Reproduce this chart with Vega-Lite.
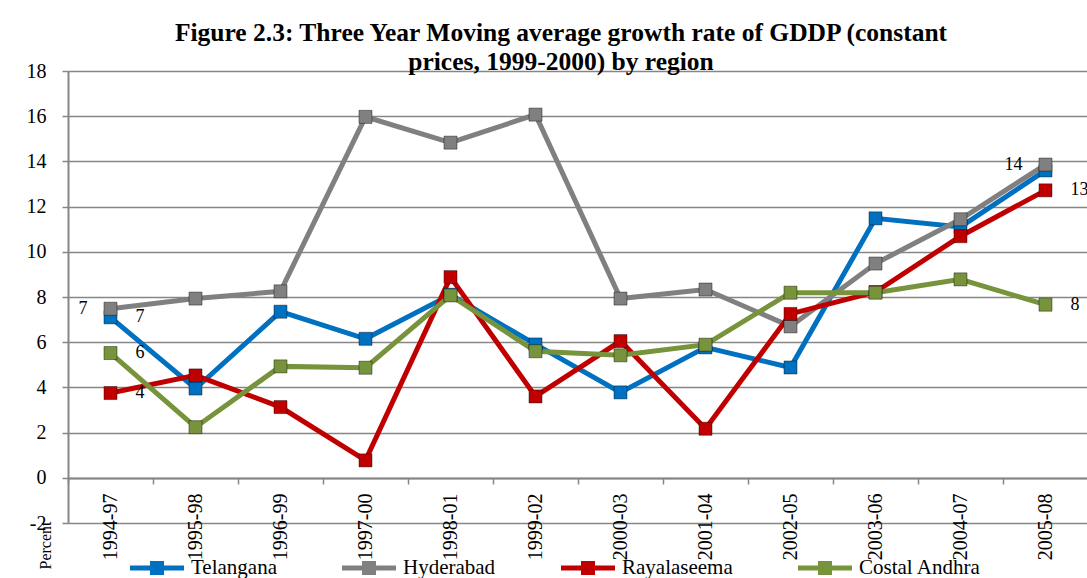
{
  "$schema": "https://vega.github.io/schema/vega-lite/v6.json",
  "width": 1020,
  "height": 452,
  "autosize": {"type": "none"},
  "padding": {"left": 68, "top": 71, "right": 0, "bottom": 55},
  "background": "white",
  "config": {"view": {"stroke": null}, "font": "Liberation Serif"},
  "title": {
    "text": ["Figure 2.3: Three Year Moving average growth rate of GDDP (constant", "prices, 1999-2000) by region"],
    "font": "Liberation Serif",
    "fontSize": 25.5,
    "fontWeight": "bold",
    "color": "black",
    "lineHeight": 29,
    "baseline": "bottom",
    "offset": -39,
    "dx": -17,
    "anchor": "middle"
  },
  "data": {
    "values": [
      {"period": "1994-97", "region": "Telangana", "growth": 7.1},
      {"period": "1995-98", "region": "Telangana", "growth": 3.95},
      {"period": "1996-99", "region": "Telangana", "growth": 7.35},
      {"period": "1997-00", "region": "Telangana", "growth": 6.15},
      {"period": "1998-01", "region": "Telangana", "growth": 8.1},
      {"period": "1999-02", "region": "Telangana", "growth": 5.9},
      {"period": "2000-03", "region": "Telangana", "growth": 3.78},
      {"period": "2001-04", "region": "Telangana", "growth": 5.77},
      {"period": "2002-05", "region": "Telangana", "growth": 4.88},
      {"period": "2003-06", "region": "Telangana", "growth": 11.48},
      {"period": "2004-07", "region": "Telangana", "growth": 11.1},
      {"period": "2005-08", "region": "Telangana", "growth": 13.6},
      {"period": "1994-97", "region": "Hyderabad", "growth": 7.48},
      {"period": "1995-98", "region": "Hyderabad", "growth": 7.93},
      {"period": "1996-99", "region": "Hyderabad", "growth": 8.25},
      {"period": "1997-00", "region": "Hyderabad", "growth": 15.97},
      {"period": "1998-01", "region": "Hyderabad", "growth": 14.83},
      {"period": "1999-02", "region": "Hyderabad", "growth": 16.07},
      {"period": "2000-03", "region": "Hyderabad", "growth": 7.93},
      {"period": "2001-04", "region": "Hyderabad", "growth": 8.33},
      {"period": "2002-05", "region": "Hyderabad", "growth": 6.7},
      {"period": "2003-06", "region": "Hyderabad", "growth": 9.48},
      {"period": "2004-07", "region": "Hyderabad", "growth": 11.44},
      {"period": "2005-08", "region": "Hyderabad", "growth": 13.86},
      {"period": "1994-97", "region": "Rayalaseema", "growth": 3.75},
      {"period": "1995-98", "region": "Rayalaseema", "growth": 4.53},
      {"period": "1996-99", "region": "Rayalaseema", "growth": 3.13},
      {"period": "1997-00", "region": "Rayalaseema", "growth": 0.77},
      {"period": "1998-01", "region": "Rayalaseema", "growth": 8.88},
      {"period": "1999-02", "region": "Rayalaseema", "growth": 3.6},
      {"period": "2000-03", "region": "Rayalaseema", "growth": 6.05},
      {"period": "2001-04", "region": "Rayalaseema", "growth": 2.17},
      {"period": "2002-05", "region": "Rayalaseema", "growth": 7.25},
      {"period": "2003-06", "region": "Rayalaseema", "growth": 8.22},
      {"period": "2004-07", "region": "Rayalaseema", "growth": 10.69},
      {"period": "2005-08", "region": "Rayalaseema", "growth": 12.72},
      {"period": "1994-97", "region": "Costal Andhra", "growth": 5.52},
      {"period": "1995-98", "region": "Costal Andhra", "growth": 2.24},
      {"period": "1996-99", "region": "Costal Andhra", "growth": 4.93},
      {"period": "1997-00", "region": "Costal Andhra", "growth": 4.87},
      {"period": "1998-01", "region": "Costal Andhra", "growth": 8.07},
      {"period": "1999-02", "region": "Costal Andhra", "growth": 5.6},
      {"period": "2000-03", "region": "Costal Andhra", "growth": 5.42},
      {"period": "2001-04", "region": "Costal Andhra", "growth": 5.89},
      {"period": "2002-05", "region": "Costal Andhra", "growth": 8.19},
      {"period": "2003-06", "region": "Costal Andhra", "growth": 8.19},
      {"period": "2004-07", "region": "Costal Andhra", "growth": 8.78},
      {"period": "2005-08", "region": "Costal Andhra", "growth": 7.66}
    ]
  },
  "encoding": {
    "x": {
      "field": "period",
      "type": "ordinal",
      "sort": null,
      "bandPosition": 0.5,
      "scale": {"type": "band", "paddingInner": 0, "paddingOuter": 0},
      "axis": {
        "title": null,
        "labelAngle": 270,
        "labelAlign": "right",
        "labelBaseline": "middle",
        "labelFont": "Liberation Serif",
        "labelFontSize": 20,
        "labelColor": "black",
        "labelPadding": 9,
        "offset": -45,
        "domainColor": "#868686",
        "domainWidth": 2,
        "tickColor": "#868686",
        "tickWidth": 1.5,
        "tickSize": 6,
        "tickBand": "extent",
        "grid": false
      }
    },
    "y": {
      "field": "growth",
      "type": "quantitative",
      "scale": {"domain": [-2, 18], "nice": false, "zero": false},
      "axis": {
        "title": "Percent",
        "titleX": -23,
        "titleY": 450,
        "titleAngle": 270,
        "titleAlign": "right",
        "titleBaseline": "middle",
        "titleFont": "Liberation Serif",
        "titleFontSize": 16,
        "titleFontWeight": "normal",
        "titleColor": "black",
        "values": [-2, 0, 2, 4, 6, 8, 10, 12, 14, 16, 18],
        "labelExpr": "replace(datum.label, '−', '-')",
        "labelFont": "Liberation Serif",
        "labelFontSize": 20,
        "labelColor": "black",
        "labelPadding": 16,
        "tickSize": 6,
        "tickColor": "#868686",
        "tickWidth": 1.5,
        "grid": true,
        "gridColor": "#868686",
        "gridWidth": 1.5,
        "domainColor": "#868686",
        "domainWidth": 2
      }
    },
    "color": {
      "field": "region",
      "type": "nominal",
      "sort": null,
      "scale": {"domain": ["Telangana", "Hyderabad", "Rayalaseema", "Costal Andhra"], "range": ["#0070C0", "#808080", "#C00000", "#77933C"]},
      "legend": {
        "title": null,
        "orient": "none",
        "legendX": 62,
        "legendY": 470,
        "direction": "horizontal",
        "columns": 4,
        "symbolType": "M-1,-0.09H1V0.09H-1Z M-0.26,-0.26H0.26V0.26H-0.26Z",
        "symbolSize": 2916,
        "symbolStrokeWidth": 0,
        "symbolOpacity": 1,
        "labelFont": "Liberation Serif",
        "labelFontSize": 21,
        "labelColor": "black",
        "labelOffset": 7,
        "columnPadding": 65,
        "labelLimit": 300
      }
    }
  },
  "layer": [
    {
      "mark": {"type": "line", "strokeWidth": 5}
    },
    {
      "mark": {"type": "point", "shape": "square", "filled": true, "size": 170, "strokeWidth": 1, "stroke": "black", "strokeOpacity": 0.4, "opacity": 1}
    },
    {
      "transform": [
        {"filter": "datum.region == 'Hyderabad' && (datum.period == '1994-97' || datum.period == '2005-08')"}
      ],
      "mark": {"type": "text", "align": "right", "baseline": "middle", "dx": -23, "font": "Liberation Serif", "fontSize": 18, "color": "black"},
      "encoding": {"text": {"field": "growth", "type": "quantitative", "format": ".0f"}, "color": {"value": "black"}}
    },
    {
      "transform": [
        {"filter": "(datum.period == '1994-97' && datum.region != 'Hyderabad') || (datum.period == '2005-08' && (datum.region == 'Rayalaseema' || datum.region == 'Costal Andhra'))"}
      ],
      "mark": {"type": "text", "align": "left", "baseline": "middle", "dx": 25, "font": "Liberation Serif", "fontSize": 18, "color": "black"},
      "encoding": {"text": {"field": "growth", "type": "quantitative", "format": ".0f"}, "color": {"value": "black"}}
    }
  ]
}
